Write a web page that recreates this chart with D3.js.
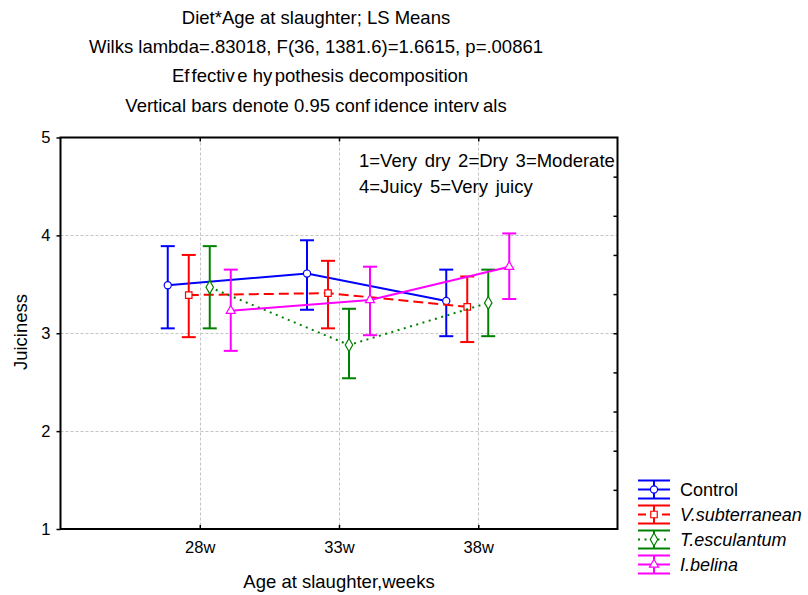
<!DOCTYPE html>
<html>
<head>
<meta charset="utf-8">
<script src="https://cdn.jsdelivr.net/npm/d3@7"></script>
<style>
  html, body { margin: 0; padding: 0; background: #fff; }
  svg { display: block; font-family: "Liberation Sans", Arial, sans-serif; }
</style>
</head>
<body>
<script>
// ---------------- data ----------------
const categories = ["28w", "33w", "38w"];
const seriesNames = ["Control", "V.subterranean", "T.esculantum", "I.belina"];
const controlMean = [3.49, 3.61, 3.33];
const controlLow  = [3.05, 3.24, 2.97];
const controlHigh = [3.89, 3.95, 3.65];
const vsubMean = [3.39, 3.41, 3.27];
const vsubLow  = [2.96, 3.05, 2.91];
const vsubHigh = [3.80, 3.74, 3.58];
const tescMean = [3.47, 2.88, 3.31];
const tescLow  = [3.05, 2.54, 2.97];
const tescHigh = [3.89, 3.25, 3.65];
const ibelMean = [3.23, 3.34, 3.68];
const ibelLow  = [2.82, 2.98, 3.35];
const ibelHigh = [3.65, 3.68, 4.02];
const yTicks = [1, 2, 3, 4, 5];
const yMinorRight = [1.4, 1.8, 2.2, 2.6, 3.0, 3.4, 3.8, 4.2, 4.6];
const titleLines = [
  ["Diet*Age at slaughter; LS Means"],
  ["Wilks lambda=.83018, F(36, 1381.6)=1.6615, p=.00861"],
  ["Ef", "fectiv", "e hy", "pothesis decomposition"],
  ["Vertical bars denote 0.95 conf", "idence interv", "als"]
];
const noteLines = ["1=Very dry 2=Dry 3=Moderate", "4=Juicy 5=Very juicy"];
const xTitle = "Age at slaughter,weeks";
const yTitle = "Juiciness";

// ---------------- styles ----------------
const colors = ["#0000ff", "#ff0000", "#008000", "#ff00ff"];
const dashes = [null, "10,5", "2,4.5", null];
const symbols = [d3.symbolCircle, d3.symbolSquare, d3.symbolDiamond, d3.symbolTriangle];
const symSizes = [40, 42, 48, 36];

const series = [
  {name: seriesNames[0], mean: controlMean, lo: controlLow, hi: controlHigh},
  {name: seriesNames[1], mean: vsubMean, lo: vsubLow, hi: vsubHigh},
  {name: seriesNames[2], mean: tescMean, lo: tescLow, hi: tescHigh},
  {name: seriesNames[3], mean: ibelMean, lo: ibelLow, hi: ibelHigh}
];

const W = 808, H = 595;
const L = 60.5, R = 617.5, T = 137.5, B = 529;

const svg = d3.select("body").append("svg").attr("width", W).attr("height", H);
svg.append("rect").attr("width", W).attr("height", H).attr("fill", "#fff");

const x = d3.scaleLinear().domain([0, categories.length + 1]).range([L, R]);
const off = d3.scalePoint().domain(seriesNames).range([-32, 31]);
const y = d3.scaleLinear().domain([1, 5]).range([B, T]);
const cx = i => x(i + 1);

// ---------------- titles ----------------
const titleG = svg.append("g").attr("font-size", 18.5).attr("fill", "#000");
titleLines.forEach((parts, li) => {
  const t = titleG.append("text").attr("x", li === 2 ? 320 : 316).attr("y", 24 + li * 29.2)
    .attr("text-anchor", "middle");
  parts.forEach((p, pi) => {
    t.append("tspan").attr("dx", pi === 0 ? 0 : (li === 2 ? 2.5 : 4)).text(p);
  });
});

// ---------------- grid ----------------
const grid = svg.append("g").attr("stroke", "#c4c4c4").attr("stroke-width", 1)
  .attr("stroke-dasharray", "3,2");
grid.selectAll("line.h").data([2, 3, 4]).join("line").attr("class", "h")
  .attr("x1", L).attr("x2", R).attr("y1", d => Math.round(y(d)) + 0.5).attr("y2", d => Math.round(y(d)) + 0.5);
grid.selectAll("line.v").data(categories).join("line").attr("class", "v")
  .attr("x1", (d, i) => Math.round(cx(i)) + 0.5).attr("x2", (d, i) => Math.round(cx(i)) + 0.5)
  .attr("y1", T).attr("y2", B);

// ---------------- axes ----------------
const axL = svg.append("g").attr("transform", `translate(${L},0)`)
  .call(d3.axisLeft(y).tickValues(yTicks).tickFormat(d3.format("d")).tickSize(4).tickPadding(6));
const axB = svg.append("g").attr("transform", `translate(0,${B})`)
  .call(d3.axisBottom(x).tickValues(categories.map((c, i) => i + 1))
    .tickFormat(d => categories[d - 1]).tickSize(-4).tickPadding(12));
const axT = svg.append("g").attr("transform", `translate(0,${T})`)
  .call(d3.axisTop(x).tickValues(categories.map((c, i) => i + 1)).tickFormat("").tickSize(-4));
const axR = svg.append("g").attr("transform", `translate(${R},0)`)
  .call(d3.axisRight(y).tickValues(yMinorRight).tickFormat("").tickSize(-4));
[axL, axB, axT, axR].forEach(g => {
  g.select(".domain").remove();
  g.selectAll(".tick line").attr("stroke", "#000").attr("stroke-width", 1.5);
  g.selectAll("text").attr("fill", "#000").attr("font-size", 16.5)
    .attr("font-family", "'Liberation Sans', Arial, sans-serif");
});

// frame
svg.append("rect").attr("x", L).attr("y", T).attr("width", R - L).attr("height", B - T)
  .attr("fill", "none").attr("stroke", "#000").attr("stroke-width", 2);

// axis titles
svg.append("text").attr("x", 339).attr("y", 588).attr("text-anchor", "middle")
  .attr("font-size", 18.5).text(xTitle);
svg.append("text").attr("transform", "translate(27,332) rotate(-90)").attr("text-anchor", "middle")
  .attr("font-size", 18.5).text(yTitle);

// annotation
noteLines.forEach((t, i) => {
  svg.append("text").attr("x", 359).attr("y", 167 + i * 26).attr("font-size", 18.5)
    .attr("word-spacing", 2.5).text(t);
});

// ---------------- series ----------------
const capW = 7;
const plot = svg.append("g");
series.forEach((s, si) => {
  const g = plot.append("g");
  const px = i => cx(i) + off(s.name);
  const line = d3.line().x((d, i) => px(i)).y(d => y(d));
  g.append("path").attr("d", line(s.mean)).attr("fill", "none")
    .attr("stroke", colors[si]).attr("stroke-width", 2)
    .attr("stroke-dasharray", dashes[si]);
  s.mean.forEach((m, i) => {
    const X = px(i);
    g.append("line").attr("x1", X).attr("x2", X).attr("y1", y(s.lo[i])).attr("y2", y(s.hi[i]))
      .attr("stroke", colors[si]).attr("stroke-width", 2);
    [s.lo[i], s.hi[i]].forEach(v => {
      g.append("line").attr("x1", X - capW).attr("x2", X + capW).attr("y1", y(v)).attr("y2", y(v))
        .attr("stroke", colors[si]).attr("stroke-width", 2);
    });
  });
  g.selectAll("path.m").data(s.mean).join("path").attr("class", "m")
    .attr("transform", (d, i) => `translate(${px(i)},${y(d)})`)
    .attr("d", d3.symbol().type(symbols[si]).size(symSizes[si]))
    .attr("fill", "#fff").attr("stroke", colors[si]).attr("stroke-width", 1.2);
});

// ---------------- legend ----------------
const lg = svg.append("g").attr("transform", "translate(654,0)");
series.forEach((s, si) => {
  const cy = 489.5 + si * 25;
  const g = lg.append("g").attr("transform", `translate(0,${cy})`);
  g.append("line").attr("x1", -16).attr("x2", 16).attr("y1", -9).attr("y2", -9)
    .attr("stroke", colors[si]).attr("stroke-width", 2);
  g.append("line").attr("x1", -16).attr("x2", 16).attr("y1", 9).attr("y2", 9)
    .attr("stroke", colors[si]).attr("stroke-width", 2);
  g.append("line").attr("x1", 0).attr("x2", 0).attr("y1", -9).attr("y2", 9)
    .attr("stroke", colors[si]).attr("stroke-width", 2);
  g.append("line").attr("x1", -16).attr("x2", 16).attr("y1", 0).attr("y2", 0)
    .attr("stroke", colors[si]).attr("stroke-width", 2)
    .attr("stroke-dasharray", si === 1 ? "8,16,8" : dashes[si]);
  g.append("path").attr("d", d3.symbol().type(symbols[si]).size(symSizes[si]))
    .attr("fill", "#fff").attr("stroke", colors[si]).attr("stroke-width", 1.2);
  g.append("text").attr("x", 26).attr("y", 6.5).attr("font-size", 18)
    .attr("font-style", si === 0 ? "normal" : "italic").text(s.name);
});
</script>
</body>
</html>
